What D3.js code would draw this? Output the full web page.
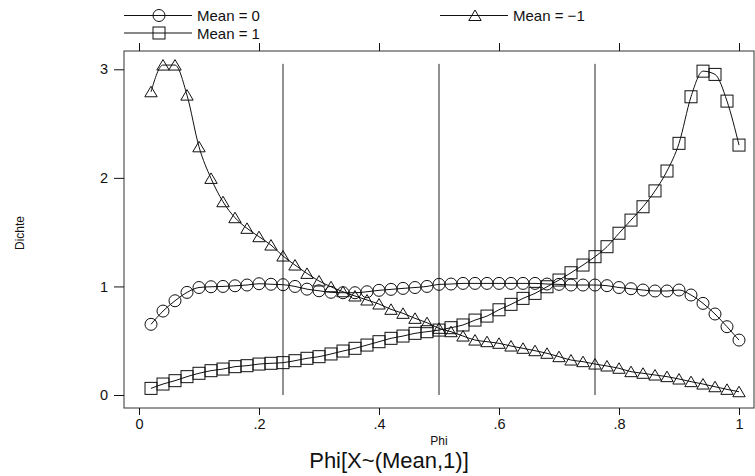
<!DOCTYPE html>
<html>
<head>
<meta charset="utf-8">
<script src="https://cdn.jsdelivr.net/npm/d3@7"></script>
<style>
  html, body { margin: 0; padding: 0; background: #fff; }
  svg { display: block; font-family: "Liberation Sans", Arial, Helvetica, sans-serif; }
</style>
</head>
<body>
<svg id="chart" width="755" height="476"></svg>
<script>
// ---- data ----
const phi = [0.02,0.04,0.06,0.08,0.10,0.12,0.14,0.16,0.18,0.20,
             0.22,0.24,0.26,0.28,0.30,0.32,0.34,0.36,0.38,0.40,
             0.42,0.44,0.46,0.48,0.50,0.52,0.54,0.56,0.58,0.60,
             0.62,0.64,0.66,0.68,0.70,0.72,0.74,0.76,0.78,0.80,
             0.82,0.84,0.86,0.88,0.90,0.92,0.94,0.96,0.98,1.00];
const mean0 = [0.651,0.773,0.868,0.945,0.990,0.997,1.000,1.006,1.013,1.025,
               1.020,1.016,1.000,0.975,0.960,0.946,0.942,0.942,0.951,0.964,
               0.973,0.982,0.990,1.000,1.019,1.022,1.028,1.028,1.028,1.028,
               1.028,1.028,1.028,1.022,1.019,1.013,1.013,1.013,1.007,0.990,
               0.979,0.967,0.958,0.958,0.967,0.921,0.844,0.746,0.629,0.506];
const mean1 = [0.061,0.101,0.132,0.169,0.200,0.224,0.239,0.261,0.270,0.285,
               0.292,0.298,0.316,0.338,0.353,0.378,0.405,0.430,0.460,0.491,
               0.522,0.543,0.568,0.583,0.598,0.620,0.645,0.690,0.727,0.785,
               0.835,0.890,0.936,0.997,1.059,1.126,1.197,1.274,1.366,1.490,
               1.611,1.734,1.880,2.063,2.318,2.747,2.983,2.953,2.707,2.302];
const meanM1 = [2.793,3.039,3.039,2.762,2.286,1.995,1.780,1.633,1.535,1.458,
                1.381,1.280,1.197,1.120,1.050,0.997,0.951,0.912,0.875,0.838,
                0.789,0.752,0.706,0.666,0.614,0.583,0.543,0.506,0.491,0.476,
                0.451,0.430,0.408,0.384,0.353,0.322,0.307,0.285,0.267,0.246,
                0.215,0.200,0.184,0.169,0.147,0.123,0.101,0.076,0.052,0.030];
const refLines = [0.24, 0.50, 0.76];
const refTop = 3.05;
const xTicks = [0, 0.2, 0.4, 0.6, 0.8, 1];
const xTickLabels = ["0", ".2", ".4", ".6", ".8", "1"];
const yTicks = [0, 1, 2, 3];
const seriesNames = ["Mean = 0", "Mean = 1", "Mean = \u22121"];
const seriesSymbols = ["circle", "square", "triangle"];

// ---- layout ----
const svg = d3.select("#chart");
const box = { left: 124, right: 754, top: 51, bottom: 408 };
const x = d3.scaleLinear().domain([0, 1]).range([139, 739]);
const y = d3.scaleLinear().domain([0, 3]).range([395, 69.3]);
const ink = "#111";
const ff = '"Liberation Sans", Arial, sans-serif';

// plot frame
svg.append("rect")
  .attr("x", box.left).attr("y", box.top)
  .attr("width", box.right - box.left).attr("height", box.bottom - box.top)
  .attr("fill", "none").attr("stroke", "#333").attr("stroke-width", 1);

// bottom x axis
const xAxis = d3.axisBottom(x).tickValues(xTicks)
  .tickFormat((d, i) => xTickLabels[i]).tickSize(7).tickPadding(4);
const gx = svg.append("g").attr("transform", `translate(0,${box.bottom})`).call(xAxis);
gx.select(".domain").remove();
gx.selectAll("line").attr("stroke", ink);
gx.selectAll("text").attr("font-size", 14.5).attr("fill", ink).attr("font-family", ff);

// top x axis (mirror ticks, no labels)
const xTop = d3.axisTop(x).tickValues(xTicks).tickFormat("").tickSize(8);
const gt = svg.append("g").attr("transform", `translate(0,${box.top})`).call(xTop);
gt.select(".domain").remove();
gt.selectAll("line").attr("stroke", ink);

// left y axis
const yAxis = d3.axisLeft(y).tickValues(yTicks).tickFormat(d3.format("d")).tickSize(10).tickPadding(6);
const gy = svg.append("g").attr("transform", `translate(${box.left},0)`).call(yAxis);
gy.select(".domain").remove();
gy.selectAll("line").attr("stroke", ink);
gy.selectAll("text").attr("font-size", 14.5).attr("fill", ink).attr("font-family", ff);

// axis titles
svg.append("text").attr("x", x(0.5)).attr("y", 445)
  .attr("text-anchor", "middle").attr("font-size", 12).attr("fill", ink).text("Phi");
svg.append("text").attr("x", 389).attr("y", 468)
  .attr("text-anchor", "middle").attr("font-size", 22).attr("fill", ink).text("Phi[X~(Mean,1)]");
svg.append("text")
  .attr("transform", "translate(24,233) rotate(-90)")
  .attr("text-anchor", "middle").attr("font-size", 12).attr("fill", ink).text("Dichte");

// reference lines
svg.append("g").selectAll("line").data(refLines).join("line")
  .attr("x1", d => x(d)).attr("x2", d => x(d))
  .attr("y1", y(0)).attr("y2", y(refTop))
  .attr("stroke", "#222").attr("stroke-width", 1);

// symbols
function drawSymbol(g, type, cx, cy) {
  if (type === "circle") {
    g.append("circle").attr("cx", cx).attr("cy", cy).attr("r", 6)
      .attr("fill", "none").attr("stroke", ink).attr("stroke-width", 1);
  } else if (type === "square") {
    g.append("rect").attr("x", cx - 6).attr("y", cy - 6).attr("width", 12).attr("height", 12)
      .attr("fill", "none").attr("stroke", ink).attr("stroke-width", 1);
  } else {
    g.append("path")
      .attr("d", `M${cx},${cy - 5.5}L${cx + 6.2},${cy + 5}L${cx - 6.2},${cy + 5}Z`)
      .attr("fill", "none").attr("stroke", ink).attr("stroke-width", 1);
  }
}

const seriesData = [mean0, mean1, meanM1];
const line = d3.line().curve(d3.curveMonotoneX);

seriesData.forEach((vals, si) => {
  const pts = phi.map((p, i) => [x(p), y(vals[i])]);
  svg.append("path").attr("d", line(pts))
    .attr("fill", "none").attr("stroke", ink).attr("stroke-width", 1);
  const g = svg.append("g");
  pts.forEach(([cx, cy]) => drawSymbol(g, seriesSymbols[si], cx, cy));
});

// legend
const legendPos = [
  { x: 124, y: 15.5 },
  { x: 124, y: 33 },
  { x: 440, y: 15.5 }
];
seriesNames.forEach((name, i) => {
  const p = legendPos[i];
  const g = svg.append("g");
  g.append("line").attr("x1", p.x).attr("x2", p.x + 68)
    .attr("y1", p.y).attr("y2", p.y).attr("stroke", ink).attr("stroke-width", 1);
  drawSymbol(g, seriesSymbols[i], p.x + 35, p.y);
  g.append("text").attr("x", p.x + 73).attr("y", p.y + 5.5)
    .attr("font-size", 15).attr("fill", ink).text(name);
});
</script>
</body>
</html>
